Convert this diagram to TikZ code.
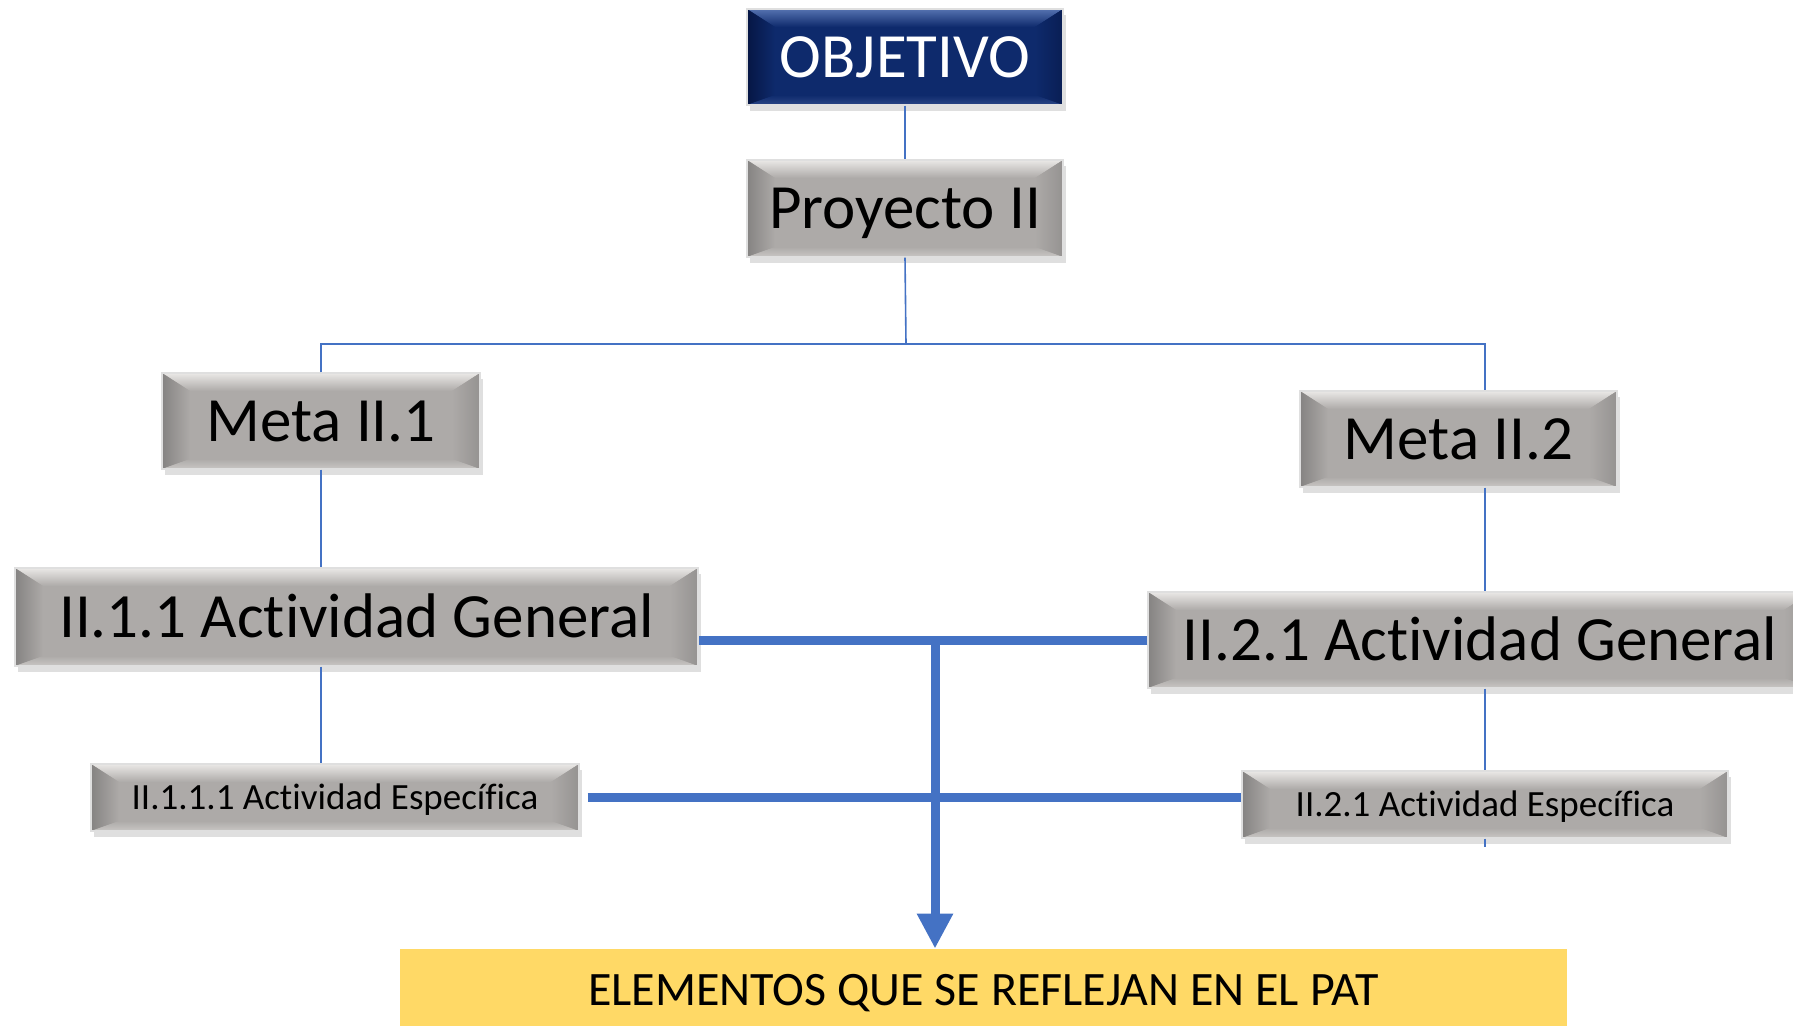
\documentclass[tikz,border=0pt]{standalone}
\usepackage{fontspec}
\setmainfont{Carlito}[Ligatures=NoCommon]
\usetikzlibrary{calc,arrows.meta,shadows}
\definecolor{lnblue}{HTML}{4472C4}
\definecolor{gbase}{HTML}{ADAAA8}
\definecolor{glight}{HTML}{EAE8E6}
\definecolor{gdark}{HTML}{858382}
\definecolor{gbot}{HTML}{C9C7C5}
\definecolor{nbase}{HTML}{0E2A6C}
\definecolor{nlight}{HTML}{5572B0}
\definecolor{ndark}{HTML}{061644}
\definecolor{nbot}{HTML}{2B4686}
\definecolor{gold}{HTML}{FFD966}
\tikzset{
  bevelbox/.style n args={4}{
    rectangle, inner sep=0pt, fill=#1, draw=gray!25, line width=0.7pt,
    drop shadow={opacity=0.25, shadow xshift=1.5pt, shadow yshift=-3pt},
    path picture={
      \coordinate (bvnw) at (path picture bounding box.north west);
      \coordinate (bvne) at (path picture bounding box.north east);
      \coordinate (bvsw) at (path picture bounding box.south west);
      \coordinate (bvse) at (path picture bounding box.south east);
      \shade[top color=#2, bottom color=#1] (bvnw) -- (bvne) -- ($(bvne)+(-14pt,-9pt)$) -- ($(bvnw)+(14pt,-9pt)$) -- cycle;
      \shade[left color=#3, right color=#1] (bvnw) -- ($(bvnw)+(14pt,-9pt)$) -- ($(bvsw)+(14pt,5pt)$) -- (bvsw) -- cycle;
      \shade[left color=#1, right color=#3!60!#1] (bvne) -- ($(bvne)+(-14pt,-9pt)$) -- ($(bvse)+(-14pt,5pt)$) -- (bvse) -- cycle;
      \shade[top color=#1, bottom color=#4] (bvsw) -- ($(bvsw)+(14pt,5pt)$) -- ($(bvse)+(-14pt,5pt)$) -- (bvse) -- cycle;
    }},
  greybox/.style={bevelbox={gbase}{glight}{gdark}{gbot}, text=black},
  navybox/.style={bevelbox={nbase}{nlight}{ndark}{nbot}, text=white},
  bigtxt/.style={font=\fontsize{31.5pt}{36pt}\selectfont, text height=20.3pt, text depth=0pt},
  smalltxt/.style={font=\fontsize{18.5pt}{22pt}\selectfont, text height=11.9pt, text depth=0pt},
  thinline/.style={draw=lnblue, line width=0.8pt},
  thickline/.style={draw=lnblue, line width=4.5pt},
}
\begin{document}
\begin{tikzpicture}[x=0.5pt, y=-0.5pt]
\useasboundingbox (0,0) rectangle (1793,1025);
\clip (0,0) rectangle (1793,1025);

\coordinate (hb) at (906,344);
\coordinate (col2) at (1485,344);

\node[navybox, bigtxt, minimum width=158pt, minimum height=48pt] (obj) at (905,57) {OBJETIVO};
\node[greybox, bigtxt, minimum width=158pt, minimum height=48.5pt] (proj) at (905,208.5) {Proyecto II};
\node[greybox, bigtxt, minimum width=159pt, minimum height=48pt] (m1) at (321,421) {Meta II.1};
\node[greybox, bigtxt, minimum width=158.5pt, minimum height=48pt] (m2) at (1458.5,439) {Meta II.2};

\draw[thinline] (obj.south) -- (proj.north);
\draw[thinline] (proj.south) -- (hb);
\draw[thinline] (m1.north) |- (hb) -- (col2) -- (col2 |- m2.north);

\node[greybox, bigtxt, minimum width=341.5pt, minimum height=49pt] (ag1) at (356.5,617) {II.1.1 Actividad General};
\node[greybox, bigtxt, minimum width=332pt, minimum height=48pt] (ag2) at (1480,640) {II.2.1 Actividad General};
\node[greybox, smalltxt, minimum width=244pt, minimum height=33.5pt] (esp1) at (335,797.5) {II.1.1.1 Actividad Específica};
\node[greybox, smalltxt, minimum width=243pt, minimum height=33.5pt] (esp2) at (1485,804.5) {II.2.1 Actividad Específica};

\draw[thinline] (m1.south) -- (m1.south |- ag1.north);
\draw[thinline] (m1.south |- ag1.south) -- (m1.south |- esp1.north);
\draw[thinline] (col2 |- m2.south) -- (col2 |- ag2.north);
\draw[thinline] (col2 |- ag2.south) -- (col2 |- esp2.north);
\draw[thinline] (col2 |- esp2.south) -- ++(0,8);

\node[fill=gold, inner sep=0pt, minimum width=583.5pt, minimum height=41pt,
      text height=15.5pt, text depth=0pt,
      font=\fontsize{24pt}{28pt}\selectfont] (yel) at (983.5,990) {ELEMENTOS QUE SE REFLEJAN EN EL PAT};

\coordinate (jn) at (935,640);
\draw[thickline] (ag2.west) -- (ag2.west -| ag1.east);
\draw[thickline] ([xshift=4pt]esp1.east) -- (esp1.east -| esp2.west);
\draw[thickline, -{Triangle[length=17.5pt,width=17pt]}] (jn) -- (jn |- yel.north);
\end{tikzpicture}
\end{document}
